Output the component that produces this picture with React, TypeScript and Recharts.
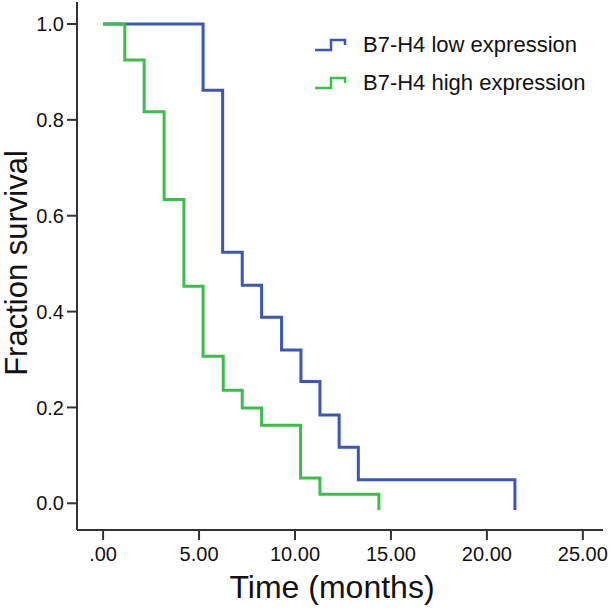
import React from 'react';
import { LineChart, Line, XAxis, YAxis, Legend, Label } from 'recharts';

const lowTimes = [0, 5.21, 6.23, 7.25, 8.26, 9.3, 10.31, 11.3, 12.3, 13.3, 21.46];
const lowSurvival = [1, 0.862, 0.524, 0.455, 0.388, 0.32, 0.254, 0.184, 0.117, 0.049, -0.014];
const highTimes = [0, 1.13, 2.14, 3.18, 4.21, 5.21, 6.26, 7.25, 8.26, 10.29, 11.3, 14.37];
const highSurvival = [1, 0.925, 0.817, 0.634, 0.453, 0.307, 0.236, 0.199, 0.163, 0.053, 0.019, -0.014];

const xTicks = [0, 5, 10, 15, 20, 25];
const xTickLabels = ['.00', '5.00', '10.00', '15.00', '20.00', '25.00'];
const yTicks = [0, 0.2, 0.4, 0.6, 0.8, 1.0];
const yTickLabels = ['0.0', '0.2', '0.4', '0.6', '0.8', '1.0'];

const seriesNames = ['B7-H4 low expression', 'B7-H4 high expression'];
const BLUE = '#3b56b3';
const GREEN = '#3dbd4a';
const FONT = '"Liberation Sans", Arial, Helvetica, sans-serif';

const lowData = lowTimes.map((t, i) => ({ t, s: lowSurvival[i] }));
const highData = highTimes.map((t, i) => ({ t, s: highSurvival[i] }));

const renderXTitle = (props: any) => {
  const vb = props.viewBox;
  return (
    <text
      x={vb.x + vb.width / 2 - 8}
      y={vb.y + 68}
      textAnchor="middle"
      fontSize={32}
      fontFamily={FONT}
      fill="#111"
    >
      Time (months)
    </text>
  );
};

const renderYTitle = (props: any) => {
  const vb = props.viewBox;
  const cx = 27;
  const cy = vb.y + vb.height / 2 - 3;
  return (
    <text
      x={cx}
      y={cy}
      transform={`rotate(-90, ${cx}, ${cy})`}
      textAnchor="middle"
      fontSize={31}
      fontFamily={FONT}
      fill="#111"
    >
      Fraction survival
    </text>
  );
};

const LegendContent = () => {
  const colors = [BLUE, GREEN];
  return (
    <div style={{ fontFamily: FONT, fontSize: 22, color: '#111' }}>
      {seriesNames.map((name, i) => (
        <div key={name} style={{ display: 'flex', alignItems: 'center', height: 38 }}>
          <svg width={36} height={14} style={{ marginRight: 14 }}>
            <path d="M2,12 H18 V2 H32 V7" fill="none" stroke={colors[i]} strokeWidth={2.5} />
          </svg>
          <span>{name}</span>
        </div>
      ))}
    </div>
  );
};

export default function App() {
  return (
    <div style={{ position: 'absolute', left: 0, top: 0, background: '#fff' }}>
      <LineChart width={613} height={610} margin={{ top: 2, right: 10, bottom: 0, left: 0 }}>
        <XAxis
          dataKey="t"
          type="number"
          domain={[-1.36, 26.05]}
          ticks={xTicks}
          allowDataOverflow
          height={80}
          tickFormatter={(v: number) => xTickLabels[xTicks.indexOf(v)] ?? String(v)}
          tick={{ fontSize: 20, fill: '#111', fontFamily: FONT }}
          tickSize={10}
          tickMargin={7}
          axisLine={{ stroke: '#333', strokeWidth: 2 }}
          tickLine={{ stroke: '#333', strokeWidth: 2 }}
        >
          <Label content={renderXTitle} />
        </XAxis>
        <YAxis
          dataKey="s"
          type="number"
          domain={[-0.0557, 1.0459]}
          ticks={yTicks}
          allowDataOverflow
          width={77}
          tickFormatter={(v: number) => yTickLabels[yTicks.indexOf(v)] ?? String(v)}
          tick={{ fontSize: 20, fill: '#111', fontFamily: FONT }}
          tickSize={10}
          tickMargin={3}
          axisLine={{ stroke: '#333', strokeWidth: 2 }}
          tickLine={{ stroke: '#333', strokeWidth: 2 }}
        >
          <Label content={renderYTitle} />
        </YAxis>
        <Line
          data={lowData}
          dataKey="s"
          type="stepAfter"
          stroke={BLUE}
          strokeWidth={3}
          dot={false}
          isAnimationActive={false}
          name={seriesNames[0]}
        />
        <Line
          data={highData}
          dataKey="s"
          type="stepAfter"
          stroke={GREEN}
          strokeWidth={3}
          dot={false}
          isAnimationActive={false}
          name={seriesNames[1]}
        />
        <Legend
          layout="vertical"
          align="center"
          verticalAlign="middle"
          content={<LegendContent />}
          wrapperStyle={{ position: 'absolute', left: 313, top: 26, width: 300, height: 76 }}
        />
      </LineChart>
    </div>
  );
}
